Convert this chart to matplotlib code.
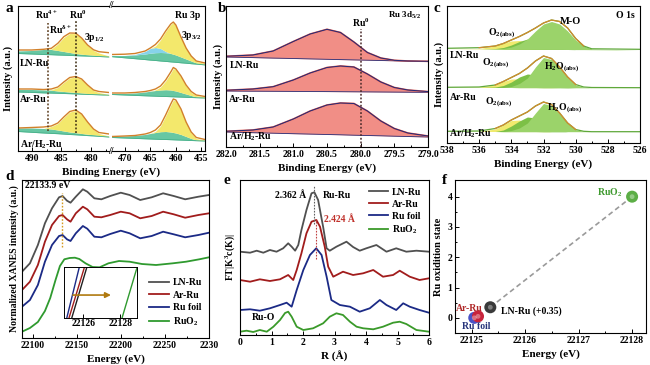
import numpy as np
import matplotlib
matplotlib.use("Agg")
import matplotlib.pyplot as plt

plt.rcParams['font.family'] = ['Liberation Serif', 'DejaVu Serif']
plt.rcParams['font.weight'] = 'bold'
plt.rcParams['axes.labelweight'] = 'bold'
plt.rcParams['mathtext.default'] = 'regular'
plt.rcParams['font.size'] = 7
plt.rcParams['axes.linewidth'] = 0.8

samples = ['LN-Ru', 'Ar-Ru', 'Ar/H$_2$-Ru']

# ---------------- panel a : Ru 3p (intensity in a.u., stacked) ----------------
a_xl = [492.3, 490, 488, 486.7, 485.6, 484.6, 483.6, 482.6, 481.6, 480.6, 479.6, 478.7, 477]
a_data_l = [[101, 101, 101.7, 102.7, 107.7, 114.3, 118, 117.8, 113, 106, 101.2, 99.3, 98.3],
            [62, 62, 61.5, 62, 64, 69, 73.5, 74.5, 72, 66, 61, 59.5, 58.5],
            [23, 23.5, 24, 25, 28, 34, 39.5, 41, 37, 29, 22, 18.5, 17]]
a_base_l = [[97.5, 97.0, 96.5, 96.3, 96.0, 95.8, 95.6, 95.3, 95.1, 94.9, 94.7, 94.5, 94.0],
            [59, 58.6, 58.1, 57.9, 57.7, 57.5, 57.3, 57.1, 56.8, 56.6, 56.4, 56.2, 55.8],
            [19.5, 18.7, 18, 17.6, 17.3, 16.9, 16.5, 16.2, 15.8, 15.4, 15.1, 14.7, 14]]
a_teal_l = [[100, 100.5, 101.5, 101.5, 100.5, 99.5, 98.5, 97.5, 96.8, 96.2, 95.7, 95.2, 94.3],
            [61.5, 61.5, 61, 60.8, 60, 59.5, 59, 58.5, 58, 57.5, 57, 56.8, 56],
            [23, 23, 22.5, 22, 21, 20, 19, 18.3, 17.5, 16.8, 16.2, 15.5, 14.5]]
a_yel_l = [[100, 100.5, 101.5, 102, 107, 113.5, 117.5, 117.3, 112.5, 105.5, 100.5, 98, 95],
           [61.5, 61.5, 61, 61.2, 63.5, 68.5, 73, 74, 71.5, 65.5, 60.5, 58.5, 56.5],
           [23, 23, 22.5, 24.5, 27.5, 33.5, 39, 40.5, 36.5, 28.5, 21.5, 17.5, 15]]

a_xr = [472.5, 470, 468, 466, 465, 464, 463, 462, 461, 460.5, 460, 459, 458, 457, 456, 454.3]
a_data_r = [[96.5, 96.8, 97.5, 100, 103, 106.5, 112, 120, 127, 129, 126, 114, 103, 95, 90, 88],
            [58, 58, 58.5, 59.5, 60.5, 62, 65, 71, 79, 83.5, 82, 75, 66, 59.5, 56, 54.5],
            [14.5, 15, 15.5, 17, 18.5, 21, 26, 36, 47, 52, 51, 42, 29, 19, 13.5, 11.5]]
a_base_r = [[94.3, 93.2, 92.3, 91.4, 90.9, 90.5, 90.0, 89.6, 89.1, 88.9, 88.7, 88.2, 87.8, 87.3, 86.9, 86.1],
            [56.5, 56, 55.6, 55.2, 55, 54.8, 54.6, 54.5, 54.3, 54.2, 54.1, 53.9, 53.7, 53.5, 53.3, 53],
            [13.5, 13, 12.6, 12.2, 12, 11.8, 11.6, 11.5, 11.3, 11.2, 11.1, 10.9, 10.7, 10.5, 10.3, 10]]
a_teal_r = [[95.5, 95.5, 96, 97, 97.8, 98.3, 98.5, 98.3, 97.5, 96.8, 96, 94, 92, 90, 88, 86.5],
            [57.5, 57.5, 58, 59, 59.8, 60.5, 61, 61.3, 61, 60.5, 60, 58.5, 57, 55.5, 54, 53.2],
            [14.5, 15, 15.5, 16.5, 17.5, 18.5, 19.3, 19.5, 19, 18.5, 18, 16.5, 14.5, 12.5, 11, 10.3]]
a_cyan_r_ln = [95.5, 95.5, 96.5, 99.5, 102.5, 103.5, 102.5, 99.5, 97.5, 96.8, 96, 94, 92, 90, 88, 86.5]
a_yel_r = [[95.5, 95.5, 96.5, 99.5, 102.5, 105, 111, 119.5, 126.5, 128.5, 125.5, 113.5, 102.5, 94.5, 89.5, 87.5],
           [57.5, 57.5, 58, 59, 59.8, 61, 64, 70, 78, 82.5, 81, 74, 65, 58.5, 55.5, 54],
           [14.5, 15, 15.5, 16.5, 17.5, 19.5, 25, 35, 46, 51, 50, 41, 28, 18, 12.5, 10.8]]
a_ru4 = 487.3
a_ru0 = 482.5

# ---------------- panel b : Ru 3d5/2 ----------------
b_x = [282.0, 281.6, 281.3, 281.0, 280.75, 280.5, 280.3, 280.1, 279.9, 279.7, 279.5, 279.3, 279.0]
b_data = [[90.7, 92, 96, 105.5, 113, 117.7, 114.5, 105, 94.5, 89, 86.7, 86, 85.7],
          [56.7, 58, 60.3, 67, 74, 79.5, 81, 80, 73, 65, 59.5, 57, 55.4],
          [15.7, 17, 20, 28, 36, 42, 44, 43.5, 36, 26, 18.5, 14, 11]]
b_base = [[90, 89.4, 88.9, 88.5, 88.1, 87.7, 87.4, 87.1, 86.8, 86.5, 86.2, 85.9, 85.4],
          [56, 55.8, 55.7, 55.6, 55.5, 55.4, 55.3, 55.2, 55.1, 55.0, 54.9, 54.8, 54.7],
          [15, 14.3, 13.8, 13.3, 12.9, 12.5, 12.2, 11.8, 11.5, 11.2, 10.8, 10.5, 10.0]]
b_ru0 = 280.0

# ---------------- panel c : O 1s ----------------
c_x = [538, 536, 535, 534.5, 534, 533.5, 533, 532.5, 532, 531.5, 531, 530.5, 530, 529.5, 529, 526]
c_data = [[94.7, 95.3, 97, 99.5, 103, 106.5, 110.5, 115, 120, 123, 121.5, 115, 104.5, 97, 94.2, 93.7],
          [55.7, 56, 58, 61.5, 65.5, 69.5, 75, 82, 87, 84.5, 76, 66, 58.5, 56, 55.5, 55.3],
          [11.7, 12, 14.5, 18, 23, 27, 31, 37, 41, 38.5, 30, 20, 13.5, 11.7, 11.3, 11.3]]
c_base = [[94.3, 94.1, 94.0, 93.9, 93.9, 93.8, 93.8, 93.7, 93.7, 93.6, 93.6, 93.5, 93.4, 93.4, 93.3, 93.0],
          [55.7, 55.6, 55.5, 55.5, 55.5, 55.4, 55.4, 55.4, 55.3, 55.3, 55.3, 55.2, 55.2, 55.2, 55.1, 55.0],
          [11.5, 11.5, 11.5, 11.4, 11.4, 11.4, 11.4, 11.4, 11.3, 11.3, 11.3, 11.3, 11.3, 11.3, 11.2, 11.2]]
c_o2 = [[94.3, 94.5, 97, 100, 102, 102.5, 101, 98, 95.5, 94.3, 93.6, 93.5, 93.4, 93.4, 93.3, 93.0],
        [55.7, 56, 58, 61.5, 64, 64, 61, 58, 56, 55.5, 55.3, 55.2, 55.2, 55.2, 55.1, 55.0],
        [11.5, 11.7, 14, 18, 22.5, 23, 20, 15, 12, 11.3, 11.3, 11.3, 11.3, 11.3, 11.2, 11.2]]
c_mid = [[94.3, 94.1, 94.5, 95.5, 98, 101.5, 104, 104, 101, 97, 95, 94, 93.4, 93.4, 93.3, 93.0],
         [55.7, 55.6, 56, 57.5, 61, 66, 69, 68, 63, 58, 56, 55.5, 55.2, 55.2, 55.1, 55.0],
         [11.5, 11.5, 11.5, 13, 17, 22, 26, 25, 19, 14, 12, 11.3, 11.3, 11.3, 11.2, 11.2]]
c_main = [[94.3, 94.1, 94.0, 94.5, 96, 99, 104, 112, 119, 121.5, 119, 112, 103, 97, 94, 93.0],
          [55.7, 55.6, 55.5, 55.6, 56.5, 59.5, 65, 76, 85.5, 83.5, 75, 65, 58, 55.8, 55.2, 55.0],
          [11.5, 11.5, 11.5, 11.5, 12.5, 15, 20, 30, 39.5, 37.5, 29, 19.5, 13.3, 11.5, 11.2, 11.2]]

# ---------------- panel d : Ru K-edge XANES ----------------
d_names = ['LN-Ru', 'Ar-Ru', 'Ru foil', 'RuO$_2$']
d_colors = ['#505050', '#a11c1c', '#1b2a86', '#2f9a2f']
d_e = [22088, 22097, 22106, 22114, 22122, 22130, 22134, 22139, 22143, 22149, 22157, 22162,
       22170, 22178, 22188, 22200, 22210, 22222, 22235, 22248, 22260, 22273, 22288, 22300]
d_ln = [66.3, 74.7, 93, 114.7, 129.7, 140.7, 142, 137.3, 135.3, 141.3, 148.7, 146.3,
        139.7, 138.7, 142, 145.3, 143, 138, 140.7, 144.7, 142, 138.7, 141.3, 143]
d_ar = [48, 56.3, 73, 96.3, 113, 122, 123, 118.7, 116.3, 124.7, 131.3, 128.7,
        121.3, 120.7, 123, 126.3, 124.7, 119.7, 122, 126.3, 123.7, 120.3, 123, 124.7]
d_foil = [31.3, 38, 53, 76.3, 93, 102, 103, 98.7, 97, 104.7, 112, 109.3,
          101.3, 100.7, 104, 107.3, 104.7, 99.7, 102, 106.3, 103.7, 100.7, 103, 105.3]
d_e_ruo2 = [22088, 22097, 22106, 22114, 22120, 22126, 22131, 22136, 22142, 22148, 22153, 22160,
            22168, 22176, 22186, 22198, 22210, 22224, 22240, 22259, 22274, 22289, 22300]
d_ruo2 = [6.3, 10, 16, 27, 40, 58, 72, 78.7, 80, 80.3, 79, 74.7,
          71, 70.7, 74.7, 77, 76.3, 74, 73, 74.7, 76.3, 78.7, 80.7]
d_edge = 22133.9
d_ticks = [22100, 22150, 22200, 22250, 22300]
d_ticklabels = ['22100', '22150', '22200', '22250', '2230']
# inset: edge crossing energies at bottom / top of the inset window
inset_level = [0, 1]
inset_foil = [22125.10, 22125.78]
inset_ar = [22125.22, 22126.06]
inset_ln = [22125.37, 22126.19]
inset_ruo2 = [22128.09, 22128.91]
inset_ticks = [22126, 22128]

# ---------------- panel e : FT-EXAFS ----------------
e_r_ln = [0, 0.32, 0.53, 0.74, 0.95, 1.16, 1.37, 1.53, 1.64, 1.75, 1.85, 1.95, 2.11, 2.27, 2.362,
          2.48, 2.64, 2.75, 2.85, 3.06, 3.38, 3.59, 3.8, 4.01, 4.33, 4.65, 4.96, 5.28, 5.6, 6.0]
e_ln = [83.3, 82.3, 84.3, 82.3, 85, 83.3, 86.7, 91.7, 88.3, 84.3, 90, 105, 125, 141.7, 142.7,
        135, 108, 86.7, 84.3, 88.3, 93.3, 88, 84.3, 86.7, 90, 83.3, 86.7, 83.3, 84.3, 83.3]
e_r_ar = [0, 0.32, 0.63, 0.95, 1.27, 1.53, 1.69, 1.80, 1.95, 2.11, 2.27, 2.424, 2.54,
          2.69, 2.8, 2.96, 3.27, 3.59, 3.91, 4.23, 4.54, 4.86, 5.07, 5.39, 5.7, 6.0]
e_ar = [55, 53.3, 55.7, 54, 55.7, 60, 55, 65, 81.7, 101.7, 113.3, 115, 108.3,
        88.3, 68.3, 58.3, 63.3, 60, 61.7, 65, 58.3, 60, 64.3, 58.3, 55, 56.7]
e_r_foil = [0, 0.32, 0.63, 0.95, 1.27, 1.48, 1.64, 1.80, 2.01, 2.22, 2.42, 2.59, 2.75,
            2.9, 3.17, 3.49, 3.8, 4.12, 4.44, 4.65, 4.96, 5.18, 5.39, 5.7, 6.0]
e_foil = [25, 25.7, 24.3, 26.7, 30, 32.3, 28.3, 45, 65, 80, 86.7, 80, 58.3,
          35, 30, 28.3, 23.3, 26.7, 35, 30, 25, 31.7, 28.3, 25, 22.3]
e_r_ruo2 = [0, 0.21, 0.42, 0.63, 0.85, 1.06, 1.27, 1.43, 1.53, 1.64, 1.8, 2.01, 2.32, 2.64,
            2.85, 3.06, 3.27, 3.49, 3.7, 3.91, 4.23, 4.54, 4.86, 5.07, 5.28, 5.6, 6.0]
e_ruo2 = [3.3, 4.3, 3, 5, 3.3, 8.3, 15, 22, 23.3, 18.3, 8.3, 5, 6.7, 11.7,
          18.3, 21.7, 20, 13.3, 8.3, 6.7, 5.7, 8.3, 12.3, 13.3, 11, 5, 3.3]
e_peak_ln = 2.362
e_peak_ar = 2.424

# ---------------- panel f : oxidation state ----------------
f_names = ['Ru foil', 'Ar-Ru', 'LN-Ru', 'RuO$_2$']
f_energy = [22125.05, 22125.12, 22125.35, 22128.0]
f_state = [0.0, 0.05, 0.35, 4.0]
f_colors = ['#4a52c6', '#c8243c', '#3a3a3a', '#5cae46']

W, H = 650, 365
fig = plt.figure(figsize=(6.5, 3.65), dpi=100)


def box(x0, y0, x1, y1):
    return [x0 / W, 1 - y1 / H, (x1 - x0) / W, (y1 - y0) / H]


def ticks(ax):
    ax.tick_params(which='both', direction='in', top=False, right=False,
                   labelsize=7, width=0.7, pad=2)
    ax.tick_params(which='major', length=3)
    ax.tick_params(which='minor', length=1.6)


data_c = '#d2802a'
yel_c = '#f3e86c'
teal_c = '#67c7a3'
cyan_c = '#86d3ea'


def draw_3p(ax, x, data, base, teal, yel, cyan=None):
    teal = np.array(teal)
    ax.fill_between(x, base, teal, color=teal_c, lw=0)
    top = teal
    if cyan is not None:
        ax.fill_between(x, teal, cyan, color=cyan_c, lw=0)
        top = np.maximum(teal, cyan)
    ax.fill_between(x, top, yel, where=np.array(yel) >= top, interpolate=True,
                    color=yel_c, lw=0)
    ax.plot(x, base, color='#48b08a', lw=0.6)
    ax.plot(x, data, color=data_c, lw=1.0)


# ----- a -----
axL = fig.add_axes(box(18, 6, 109, 151))
axR = fig.add_axes(box(112, 6, 205, 151))
for i in range(3):
    draw_3p(axL, a_xl, a_data_l[i], a_base_l[i], a_teal_l[i], a_yel_l[i])
    draw_3p(axR, a_xr, a_data_r[i], a_base_r[i], a_teal_r[i], a_yel_r[i],
            a_cyan_r_ln if i == 0 else None)
axL.set_xlim(492.3, 477)
axR.set_xlim(472.5, 454.3)
for ax in (axL, axR):
    ax.set_ylim(0, 145)
    ax.set_yticks([])
    ticks(ax)
axL.set_xticks([490, 485, 480])
axL.set_xticks([487.5, 482.5, 477.5], minor=True)
axR.set_xticks([470, 465, 460, 455])
axR.set_xticks([467.5, 462.5, 457.5], minor=True)
axL.spines['right'].set_visible(False)
axR.spines['left'].set_visible(False)
axL.vlines([a_ru4], 20, 128, colors='#5a3a1a', linestyles=(0, (1.2, 1.2)), lw=1.1)
axL.vlines([a_ru0], 18, 130, colors='#3a2a10', linestyles=(0, (1.2, 1.2)), lw=1.1)
axL.text(487.6, 136, 'Ru$^{4+}$', ha='center', va='center', fontsize=7)
axL.text(482.3, 136, 'Ru$^{0}$', ha='center', va='center', fontsize=7)
axL.text(485.1, 121, 'Ru$^{\\delta+}$', ha='center', va='center', fontsize=7)
axL.text(479.4, 113, '3p$_{1/2}$', ha='center', va='center', fontsize=7)
axR.text(455.2, 136, 'Ru 3p', ha='right', va='center', fontsize=7)
axR.text(457.0, 116, '3p$_{3/2}$', ha='center', va='center', fontsize=7)
for lab, h in zip(samples, [88, 52, 6]):
    axL.text(492.0, h, lab, ha='left', va='center', fontsize=7)
for yy in (6, 151):
    fig.text(110.5 / W, 1 - yy / H, '//', ha='center', va='center', fontsize=7)
fig.text(111 / W, 1 - 172 / H, 'Binding Energy (eV)', ha='center', va='center', fontsize=8)
fig.text(8 / W, 1 - 78 / H, 'Intensity (a.u.)', rotation=90, ha='center', va='center', fontsize=7.5)
fig.text(5 / W, 1 - 9 / H, 'a', fontsize=11, ha='left', va='center')

# ----- b -----
axb = fig.add_axes(box(226, 6, 428, 147))
for i in range(3):
    axb.fill_between(b_x, b_base[i], b_data[i], color='#f08279', alpha=0.9, lw=0)
    axb.plot(b_x, b_base[i], color='#28307a', lw=0.6)
    axb.plot(b_x, b_data[i], color='#e0554a', lw=1.2)
    axb.plot(b_x, b_data[i], color='#1f2a78', lw=0.7)
axb.vlines([b_ru0], 0, 118, colors='#4a2a2a', linestyles=(0, (1.2, 1.2)), lw=1.1)
axb.set_xlim(282.0, 279.0)
axb.set_ylim(0, 141)
axb.set_yticks([])
axb.set_xticks([282.0, 281.5, 281.0, 280.5, 280.0, 279.5, 279.0])
axb.set_xticklabels(['282.0', '281.5', '281.0', '280.5', '280.0', '279.5', '279.0'])
axb.set_xticks([281.75, 281.25, 280.75, 280.25, 279.75, 279.25], minor=True)
ticks(axb)
axb.text(280.0, 124, 'Ru$^{0}$', ha='center', va='center', fontsize=7)
axb.text(279.1, 132, 'Ru 3d$_{5/2}$', ha='right', va='center', fontsize=6.5)
for lab, h in zip(samples, [82, 47, 10]):
    axb.text(281.95, h, lab, ha='left', va='center', fontsize=7)
axb.set_xlabel('Binding Energy (eV)', fontsize=8, labelpad=3)
axb.set_ylabel('Intensity (a.u.)', fontsize=7.5, labelpad=2)
fig.text(218 / W, 1 - 9 / H, 'b', fontsize=11, ha='left', va='center')

# ----- c -----
axc = fig.add_axes(box(447, 6, 640, 143))
for i in range(3):
    axc.fill_between(c_x, c_base[i], c_o2[i], color='#f0ea6e', lw=0)
    axc.fill_between(c_x, c_base[i], c_mid[i], color='#7cc046', lw=0)
    axc.fill_between(c_x, c_base[i], c_main[i], color='#9bd36a', lw=0)
    axc.plot(c_x, c_data[i], color='#5fa83a', lw=0.9)
    peak_part = np.where(np.array(c_data[i]) - np.array(c_base[i]) > 1.0, c_data[i], np.nan)
    axc.plot(c_x, peak_part, color='#d48a2e', lw=0.9)
axc.set_xlim(538, 526)
axc.set_ylim(0, 137)
axc.set_yticks([])
axc.set_xticks([538, 536, 534, 532, 530, 528, 526])
axc.set_xticks([537, 535, 533, 531, 529, 527], minor=True)
ticks(axc)
axc.text(526.3, 128, 'O 1s', ha='right', va='center', fontsize=7)
axc.text(534.6, 110, 'O$_{2(abs)}$', ha='center', va='center', fontsize=7)
axc.text(530.3, 121, 'M-O', ha='center', va='center', fontsize=7.5)
axc.text(535.0, 80, 'O$_{2(abs)}$', ha='center', va='center', fontsize=7)
axc.text(530.9, 76, 'H$_2$O$_{(abs)}$', ha='center', va='center', fontsize=7)
axc.text(534.8, 41, 'O$_{2(abs)}$', ha='center', va='center', fontsize=7)
axc.text(530.7, 35, 'H$_2$O$_{(abs)}$', ha='center', va='center', fontsize=7)
for lab, h in zip(samples, [88, 46, 9]):
    axc.text(537.85, h, lab, ha='left', va='center', fontsize=7)
axc.set_xlabel('Binding Energy (eV)', fontsize=8, labelpad=3)
axc.set_ylabel('Intensity (a.u.)', fontsize=7.5, labelpad=2)
fig.text(433 / W, 1 - 9 / H, 'c', fontsize=11, ha='left', va='center')

# ----- d -----
axd = fig.add_axes(box(22, 180, 209, 338))
axd.plot(d_e, d_ln, color=d_colors[0], lw=1.3, label=d_names[0])
axd.plot(d_e, d_ar, color=d_colors[1], lw=1.3, label=d_names[1])
axd.plot(d_e, d_foil, color=d_colors[2], lw=1.3, label=d_names[2])
axd.plot(d_e_ruo2, d_ruo2, color=d_colors[3], lw=1.3, label=d_names[3])
axd.vlines([d_edge], 91, 145, colors='#d49a20', linestyles=(0, (1.2, 1.2)), lw=1.0)
axd.text(22091.5, 152, '%.1f eV' % d_edge, ha='left', va='center', fontsize=7)
axd.set_xlim(22088, 22300)
axd.set_ylim(0, 158)
axd.set_yticks([])
axd.set_xticks(d_ticks)
axd.set_xticklabels(d_ticklabels)
axd.set_xticks([22125, 22175, 22225, 22275], minor=True)
ticks(axd)
axd.legend(loc='lower right', bbox_to_anchor=(1.0, 0.02), frameon=False, fontsize=7,
           handlelength=2.0, handletextpad=0.4, labelspacing=0.35, borderpad=0.2)
axd.set_xlabel('Energy (eV)', fontsize=8, labelpad=3)
axd.set_ylabel('Normalized XANES intensity (a.u.)', fontsize=7, labelpad=2)
fig.text(5 / W, 1 - 176 / H, 'd', fontsize=11, ha='left', va='center')

axi = fig.add_axes(box(64, 267, 137, 318))
axi.plot(inset_foil, inset_level, color=d_colors[2], lw=1.0)
axi.plot(inset_ar, inset_level, color=d_colors[1], lw=1.0)
axi.plot(inset_ln, inset_level, color='#202020', lw=1.0)
axi.plot(inset_ruo2, inset_level, color=d_colors[3], lw=1.0)
axi.annotate('', xy=(22127.64, 0.45), xytext=(22125.28, 0.45),
             arrowprops=dict(arrowstyle='-|>', color='#b07a10', lw=1.2, mutation_scale=8))
axi.set_xlim(22124.95, 22128.9)
axi.set_ylim(0, 1)
axi.set_yticks([])
axi.set_xticks(inset_ticks)
axi.set_xticklabels([str(t) for t in inset_ticks])
for s in axi.spines.values():
    s.set_linewidth(0.7)
ticks(axi)
axi.tick_params(labelsize=7, pad=1)

# ----- e -----
axe = fig.add_axes(box(240, 180, 429, 335))
axe.plot(e_r_ln, e_ln, color=d_colors[0], lw=1.3, label='LN-Ru')
axe.plot(e_r_ar, e_ar, color=d_colors[1], lw=1.3, label='Ar-Ru')
axe.plot(e_r_foil, e_foil, color=d_colors[2], lw=1.3, label='Ru foil')
axe.plot(e_r_ruo2, e_ruo2, color='#3a9a2a', lw=1.3, label='RuO$_2$')
axe.vlines([e_peak_ln], 111, 150, colors='#606060', linestyles=(0, (1.5, 1.2)), lw=0.8)
axe.vlines([e_peak_ar], 76, 116, colors='#c04040', linestyles=(0, (1.5, 1.2)), lw=0.8)
axe.text(2.1, 140, '%.3f Å' % e_peak_ln, ha='right', va='center', fontsize=7)
axe.text(2.62, 140, 'Ru-Ru', ha='left', va='center', fontsize=7)
axe.text(2.68, 115, '%.3f Å' % e_peak_ar, ha='left', va='center', fontsize=7, color='#c0302a')
axe.text(0.75, 17, 'Ru-O', ha='center', va='center', fontsize=7)
axe.set_xlim(0, 6)
axe.set_ylim(0, 155)
axe.set_yticks([])
axe.set_xticks(range(7))
axe.set_xticks(np.arange(0.5, 6, 1), minor=True)
ticks(axe)
axe.legend(loc='upper right', frameon=False, fontsize=7, handlelength=2.0,
           handletextpad=0.4, labelspacing=0.3, borderpad=0.3)
axe.set_xlabel('R (Å)', fontsize=8, labelpad=3)
axe.set_ylabel('FT|K$^3$c(K)|', fontsize=7, labelpad=2)
fig.text(224 / W, 1 - 180 / H, 'e', fontsize=11, ha='left', va='center')

# ----- f -----
axf = fig.add_axes(box(455, 180, 646, 333))
axf.plot(f_energy[2:], f_state[2:], color='#9a9a9a', lw=1.2, ls=(0, (3, 2)), zorder=1)
axf.scatter(f_energy, f_state, s=75, c=f_colors, edgecolors='none', zorder=3)
axf.scatter(f_energy, f_state, s=12, c='white', alpha=0.35, edgecolors='none', zorder=4)
axf.text(22127.82, 4.12, 'RuO$_2$', color='#3f9a2f', ha='right', va='center', fontsize=7)
axf.text(22124.70, 0.32, 'Ar-Ru', color='#b02828', ha='left', va='center', fontsize=7)
axf.text(22124.82, -0.3, 'Ru foil', color='#26337a', ha='left', va='center', fontsize=7)
axf.text(22125.55, 0.22, 'LN-Ru (+%.2f)' % f_state[2], color='black', ha='left', va='center', fontsize=7)
axf.set_xlim(22124.69, 22128.26)
axf.set_ylim(-0.5, 4.55)
axf.set_xticks([22125, 22126, 22127, 22128])
axf.set_xticks([22125.5, 22126.5, 22127.5], minor=True)
axf.set_yticks([0, 1, 2, 3, 4])
axf.set_yticks([0.5, 1.5, 2.5, 3.5], minor=True)
ticks(axf)
axf.xaxis.set_major_formatter(matplotlib.ticker.FormatStrFormatter('%d'))
axf.set_xlabel('Energy (eV)', fontsize=8, labelpad=3)
axf.set_ylabel('Ru oxidition state', fontsize=7.5, labelpad=3)
fig.text(442 / W, 1 - 180 / H, 'f', fontsize=11, ha='left', va='center')

fig.savefig('out.png', dpi=100, facecolor='white')
